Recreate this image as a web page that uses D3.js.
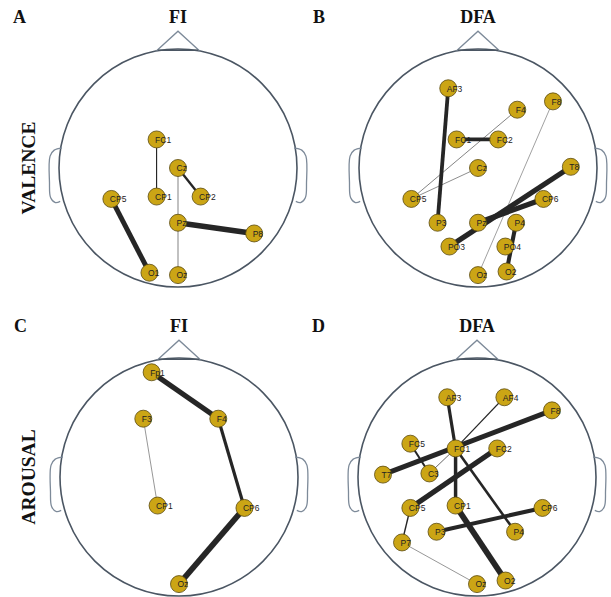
<!DOCTYPE html>
<meta charset="utf-8">
<head>
<style>
body { margin: 0; background: #fff; }
.head { fill: none; stroke: #4b5663; stroke-width: 1.6px; }
.nose, .ear { fill: none; stroke: #7d8a99; stroke-width: 1.3px; }
.edge { stroke: #262626; stroke-linecap: butt; }
.node { fill: #cba515; stroke: #5a4a10; stroke-width: 0.8px; }
.lbl { font-family: Arial, "Liberation Sans", sans-serif; font-size: 8.5px; fill: #222; }
.ttl { font-family: "Liberation Serif", "Times New Roman", serif; font-weight: bold; font-size: 18px; fill: #111; }
.row { font-family: "Liberation Serif", "Times New Roman", serif; font-weight: bold; font-size: 19.5px; fill: #111; }
</style>
</head>
<body>
<script src="https://d3js.org/d3.v7.min.js"></script>
<script>

// electrode positions, head radius = 1 (x to the right, y towards the back)
var electrodes = [
  ["Fp1", -0.23, -0.88], ["AF3", -0.25, -0.67], ["AF4", 0.23, -0.67],
  ["F3", -0.30, -0.49], ["F4", 0.33, -0.49], ["F8", 0.63, -0.56],
  ["FC5", -0.56, -0.28], ["FC1", -0.18, -0.24], ["FC2", 0.17, -0.24],
  ["T7", -0.79, -0.02], ["C3", -0.40, -0.03], ["Cz", 0.0, 0.0], ["T8", 0.78, -0.01],
  ["CP5", -0.56, 0.26], ["CP1", -0.18, 0.24], ["CP2", 0.19, 0.24], ["CP6", 0.55, 0.26],
  ["P7", -0.63, 0.55], ["P3", -0.34, 0.46], ["Pz", 0.0, 0.46], ["P4", 0.32, 0.46], ["P8", 0.64, 0.55],
  ["PO3", -0.24, 0.66], ["PO4", 0.23, 0.66],
  ["O1", -0.24, 0.88], ["Oz", 0.0, 0.90], ["O2", 0.24, 0.87]
];

// panel A: valence, FI
var nodesA = ["FC1", "Cz", "CP1", "CP2", "CP5", "Pz", "P8", "O1", "Oz"];
var edgesA = [["FC1", "CP1", 2], ["Cz", "CP2", 4], ["Cz", "Oz", 1.3], ["Pz", "P8", 9.5], ["CP5", "O1", 8.5]];

// panel B: valence, DFA
var nodesB = ["AF3", "F4", "F8", "FC1", "FC2", "Cz", "T8", "CP5", "CP6", "P3", "Pz", "P4", "PO3", "PO4", "Oz", "O2"];
var edgesB = [["AF3", "P3", 6.5], ["FC1", "FC2", 6.5], ["F4", "CP5", 1.3], ["Cz", "CP5", 1.2],
  ["F8", "Oz", 1], ["T8", "PO3", 9], ["CP6", "Pz", 9], ["P4", "O2", 7]];

// panel C: arousal, FI
var nodesC = ["Fp1", "F3", "F4", "CP1", "CP6", "Oz"];
var edgesC = [["Fp1", "F4", 9], ["F4", "CP6", 5.5], ["CP6", "Oz", 10], ["F3", "CP1", 1.1]];

// panel D: arousal, DFA
var nodesD = ["AF3", "AF4", "F8", "FC5", "FC1", "FC2", "T7", "C3", "CP5", "CP1", "CP6", "P3", "P4", "P7", "Oz", "O2"];
var edgesD = [["AF3", "FC1", 5.5], ["AF4", "FC1", 2], ["F8", "T7", 8.5], ["FC5", "C3", 3.5],
  ["FC1", "C3", 1.6], ["FC1", "CP1", 6], ["CP1", "O2", 10], ["FC1", "P4", 4.5],
  ["FC2", "CP5", 9], ["CP6", "P3", 7], ["CP5", "P7", 2.5], ["P7", "Oz", 1.1]];

var panels = [
  {tag: "A", title: "FI", nodes: nodesA, edges: edgesA, cx: 178, cy: 168},
  {tag: "B", title: "DFA", nodes: nodesB, edges: edgesB, cx: 478, cy: 168},
  {tag: "C", title: "FI", nodes: nodesC, edges: edgesC, cx: 179, cy: 477},
  {tag: "D", title: "DFA", nodes: nodesD, edges: edgesD, cx: 477, cy: 477}
];
var rowLabels = [["VALENCE", 168], ["AROUSAL", 477]];

var R = 119;
var pos = {};
electrodes.forEach(function(e) { pos[e[0]] = {x: e[1], y: e[2]}; });

var width = d3.scaleLinear().domain([0, 10]).range([0, 5.8]);

var svg = d3.select("body").append("svg")
    .attr("width", 611)
    .attr("height", 597);

panels.forEach(function(p) {
  var x = d3.scaleLinear().domain([-1, 1]).range([p.cx - R, p.cx + R]);
  var y = d3.scaleLinear().domain([-1, 1]).range([p.cy - R, p.cy + R]);
  var g = svg.append("g");

  // head outline
  g.append("circle").attr("class", "head")
    .attr("cx", x(0)).attr("cy", y(0)).attr("r", R);
  // nose
  g.append("path").attr("class", "nose")
    .attr("d", d3.line()([[x(-0.18), y(-0.985)], [x(0), y(-1.15)], [x(0.18), y(-0.985)]]));
  g.append("path").attr("class", "head")
    .attr("d", d3.line()([[x(-0.17), y(-0.99)], [x(0.17), y(-0.99)]]));
  // ears
  [-1, 1].forEach(function(s) {
    var pts = [[0.975, -0.17], [1.04, -0.15], [1.075, -0.1], [1.08, 0.12], [1.07, 0.25], [1.03, 0.29], [0.99, 0.28]];
    g.append("path").attr("class", "ear")
      .attr("d", d3.line().curve(d3.curveCatmullRom)(pts.map(function(d) { return [x(s * d[0]), y(d[1])]; })));
  });

  // edges
  g.selectAll(".edge").data(p.edges).enter().append("line")
    .attr("class", "edge")
    .attr("x1", function(d) { return x(pos[d[0]].x); })
    .attr("y1", function(d) { return y(pos[d[0]].y); })
    .attr("x2", function(d) { return x(pos[d[1]].x); })
    .attr("y2", function(d) { return y(pos[d[1]].y); })
    .attr("stroke-width", function(d) { return width(d[2]); })
    .style("opacity", function(d) { return d[2] < 2 ? 0.75 : 1; });

  // nodes
  var n = g.selectAll(".nd").data(p.nodes).enter().append("g");
  n.append("circle").attr("class", "node")
    .attr("cx", function(d) { return x(pos[d].x); })
    .attr("cy", function(d) { return y(pos[d].y); })
    .attr("r", 8.5);
  n.append("text").attr("class", "lbl")
    .attr("x", function(d) { return x(pos[d].x) - 1.5; })
    .attr("y", function(d) { return y(pos[d].y); })
    .attr("dy", "0.38em")
    .text(function(d) { return d; });

  // titles
  svg.append("text").attr("class", "ttl")
    .attr("x", p.cx - 165).attr("y", p.cy - 145)
    .text(p.tag);
  svg.append("text").attr("class", "ttl")
    .attr("x", p.cx).attr("y", p.cy - 145)
    .attr("text-anchor", "middle")
    .text(p.title);
});

rowLabels.forEach(function(r) {
  svg.append("text").attr("class", "row")
    .attr("transform", "translate(35," + r[1] + ") rotate(-90)")
    .attr("text-anchor", "middle")
    .text(r[0]);
});

</script>
</body>
